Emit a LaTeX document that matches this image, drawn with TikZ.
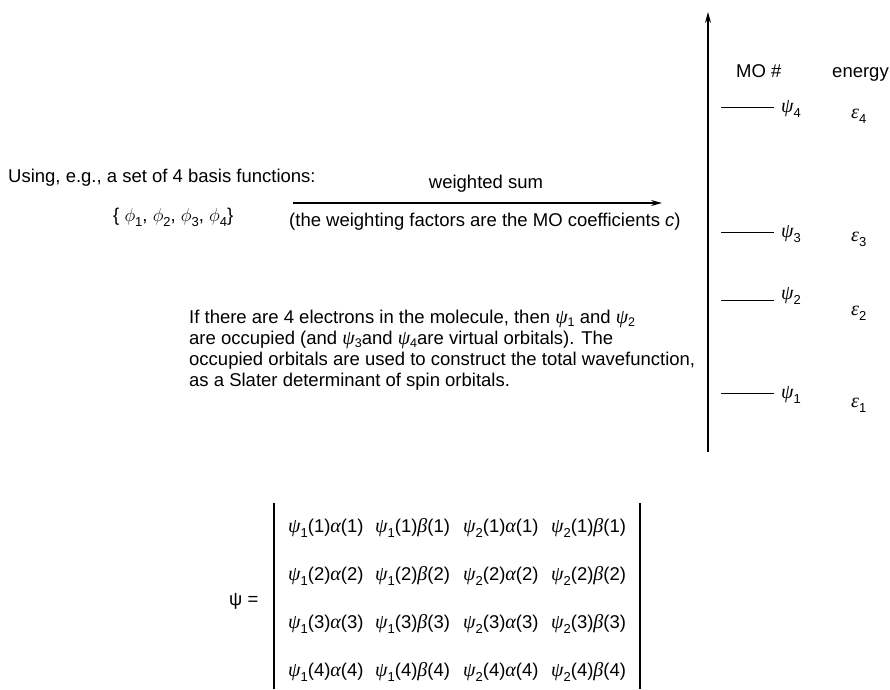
\RequirePackage{fix-cm}
\documentclass[tikz,border=0pt]{standalone}
\usepackage{fontspec}
\setmainfont{Liberation Sans}
\newfontfamily\gkfont{Liberation Serif}
\newcommand\gk[1]{{\gkfont\itshape\fontsize{20}{21}\selectfont #1}}
\newcommand\lo[1]{\raisebox{-0.3em}{\fontsize{13}{13}\selectfont #1}}
\newcommand\los[1]{\raisebox{-0.18em}{\fontsize{12.5}{12.5}\selectfont #1}}
\usetikzlibrary{arrows.meta}
\begin{document}
\begin{tikzpicture}[x=1pt,y=-1pt,
  every node/.style={inner sep=0pt,font=\fontsize{18.5}{21}\selectfont},
  txt/.style={anchor=base west},
  lvl/.style={line width=1pt},
  axis/.style={line width=1.2pt,-{Stealth[length=11pt,width=6pt]}},
  detbar/.style={line width=1.4pt}]
\useasboundingbox (0,0) rectangle (890,689);
% left texts
\node[txt] (using) at (8,182) {Using, e.g., a set of 4 basis functions:};
\node[txt] (basis) at (113,221) {\{ $\phi$\lo{1}, $\phi$\lo{2}, $\phi$\lo{3}, $\phi$\lo{4}\}};
\coordinate (wa) at (293,203);
\coordinate (wb) at (662,203);
\draw[axis] (wa) -- (wb);
\node[anchor=base] (wsum) at (486,188) {weighted sum};
\node[txt] (wfac) at (289,226) {(the weighting factors are the MO coefficients \textit{c})};
% paragraph
\node[anchor=north west, align=left] (para) at (189,308)
  {\rule{0pt}{15pt}If there are 4 electrons in the molecule, then \gk{ψ}\los{1} and \gk{ψ}\los{2}\\
   are occupied (and \gk{ψ}\los{3}and \gk{ψ}\los{4}are virtual orbitals). The\\
   occupied orbitals are used to construct the total wavefunction,\\
   as a Slater determinant of spin orbitals.};
% energy axis
\coordinate (ax0) at (708,452);
\coordinate (ax1) at (708,12);
\draw[axis] (ax0) -- (ax1);
\node[txt] (mo) at (736,77) {MO \#};
\node[txt] (en) at (832,77) {energy};
\foreach \i/\y/\py/\ey in {4/107/112/118, 3/232/237/241, 2/300/299/315, 1/393/398/407}{
  \coordinate (l\i a) at (721,\y);
  \coordinate (l\i b) at (774,\y);
  \draw[lvl] (l\i a) -- (l\i b);
  \node[txt] (psi\i) at (781,\py) {\gk{ψ}\lo{\i}};
  \node[txt] (eps\i) at (851,\ey) {\gk{ε}\lo{\i}};
}
% determinant
\node[txt] (psi) at (229,605) {ψ =};
\coordinate (bl0) at (274,503);
\coordinate (bl1) at (274,689);
\coordinate (br0) at (640,503);
\coordinate (br1) at (640,689);
\draw[detbar] (bl0) -- (bl1);
\draw[detbar] (br0) -- (br1);
\foreach \r/\y in {1/532, 2/580, 3/628, 4/676}{
  \node[txt] (d\r a) at (288,\y) {\gk{ψ}\lo{1}(\r)\gk{α}(\r)};
  \node[txt] (d\r b) at (375,\y) {\gk{ψ}\lo{1}(\r)\gk{β}(\r)};
  \node[txt] (d\r c) at (463,\y) {\gk{ψ}\lo{2}(\r)\gk{α}(\r)};
  \node[txt] (d\r d) at (551,\y) {\gk{ψ}\lo{2}(\r)\gk{β}(\r)};
}
\end{tikzpicture}
\end{document}
